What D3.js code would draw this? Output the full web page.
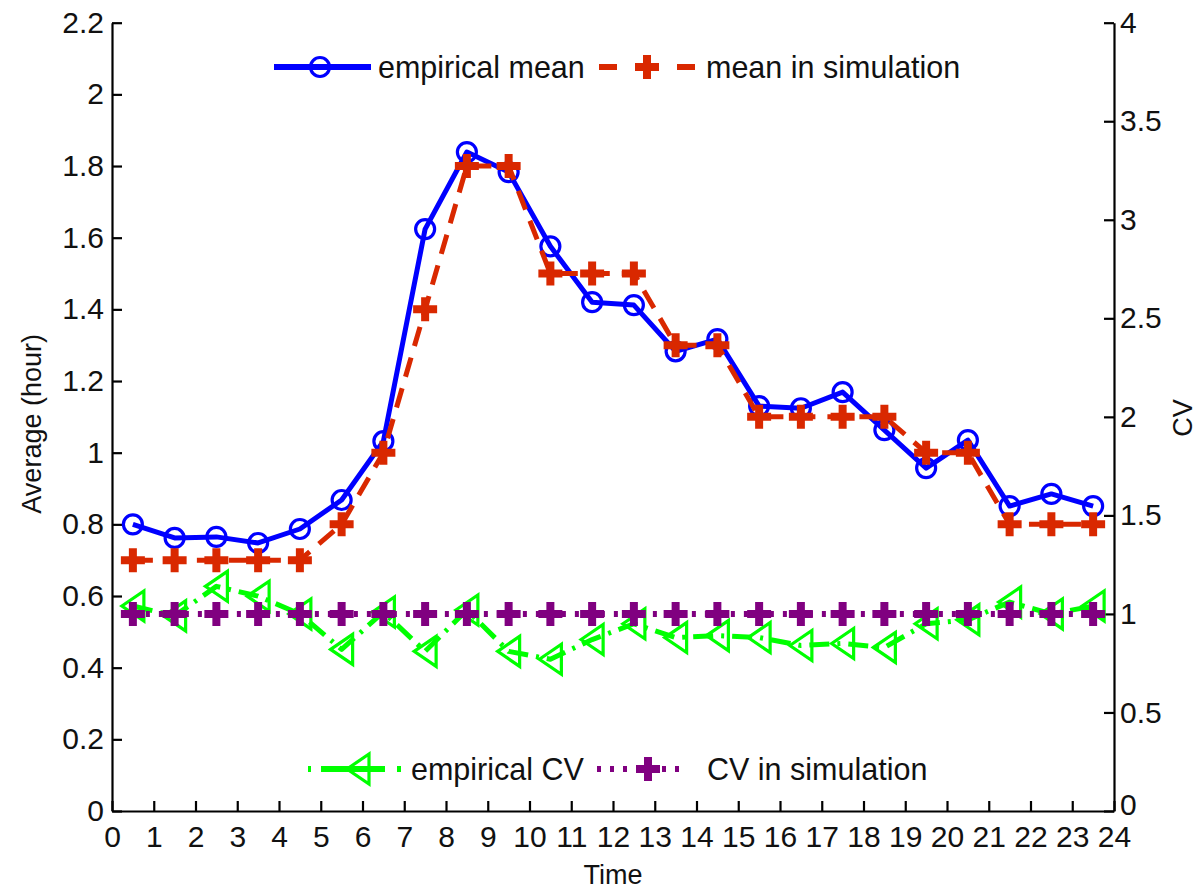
<!DOCTYPE html>
<html>
<head>
<meta charset="utf-8">
<script src="https://cdn.jsdelivr.net/npm/d3@7"></script>
<style>
  html, body { margin: 0; padding: 0; background: #fff; }
  svg { display: block; font-family: "Liberation Sans", Arial, sans-serif; }
</style>
</head>
<body>
<svg id="chart" width="1201" height="890"></svg>
<script>
// Hour of day (bin centres)
const hours = [0.5, 1.5, 2.5, 3.5, 4.5, 5.5, 6.5, 7.5, 8.5, 9.5, 10.5, 11.5,
               12.5, 13.5, 14.5, 15.5, 16.5, 17.5, 18.5, 19.5, 20.5, 21.5, 22.5, 23.5];

// Average duration (hour) – left axis
const empiricalMean = [0.80, 0.762, 0.765, 0.748, 0.787, 0.868, 1.032, 1.624, 1.839, 1.783, 1.576, 1.42,
                       1.412, 1.283, 1.317, 1.13, 1.124, 1.169, 1.063, 0.957, 1.035, 0.851, 0.885, 0.851];
const simMean = [0.7, 0.7, 0.7, 0.7, 0.7, 0.8, 1.0, 1.4, 1.8, 1.8, 1.5, 1.5,
                 1.5, 1.3, 1.3, 1.1, 1.1, 1.1, 1.1, 1.0, 1.0, 0.8, 0.8, 0.8];

// Coefficient of variation – right axis
const empiricalCV = [1.04, 0.99, 1.14, 1.09, 1.0, 0.82, 1.01, 0.81, 1.02, 0.81, 0.77, 0.87,
                     0.95, 0.88, 0.89, 0.88, 0.84, 0.85, 0.83, 0.95, 0.97, 1.06, 1.0, 1.04];
const simCV = [1, 1, 1, 1, 1, 1, 1, 1, 1, 1, 1, 1,
               1, 1, 1, 1, 1, 1, 1, 1, 1, 1, 1, 1];

// Tick values and labels
const xTicks = [0,1,2,3,4,5,6,7,8,9,10,11,12,13,14,15,16,17,18,19,20,21,22,23,24];
const leftTicks = [0, 0.2, 0.4, 0.6, 0.8, 1, 1.2, 1.4, 1.6, 1.8, 2, 2.2];
const leftTickLabels = ["0","0.2","0.4","0.6","0.8","1","1.2","1.4","1.6","1.8","2","2.2"];
const rightTicks = [0, 0.5, 1, 1.5, 2, 2.5, 3, 3.5, 4];
const rightTickLabels = ["0","0.5","1","1.5","2","2.5","3","3.5","4"];

const svg = d3.select("#chart");
const plotLeft = 112, plotRight = 1114, plotTop = 22.7, plotBottom = 811;

const x = d3.scaleLinear().domain([0, 24]).range([plotLeft, plotRight]);
const yL = d3.scaleLinear().domain([0, 2.2]).range([plotBottom, plotTop]);
const yR = d3.scaleLinear().domain([0, 4]).range([plotBottom, plotTop]);

const BLUE = "#0000ff", RED = "#d92800", GREEN = "#00ff00", PURPLE = "#800080";

// Axes (ticks pointing inward, no top frame)
const tickFont = 30;
const gx = svg.append("g").attr("transform", `translate(0,${plotBottom})`)
  .call(d3.axisBottom(x).tickValues(xTicks).tickFormat(d3.format("d"))
    .tickSize(-10).tickSizeOuter(0).tickPadding(15));
const gl = svg.append("g").attr("transform", `translate(${plotLeft},0)`)
  .call(d3.axisLeft(yL).tickValues(leftTicks).tickFormat((d, i) => leftTickLabels[i])
    .tickSize(-10).tickSizeOuter(0).tickPadding(8));
const gr = svg.append("g").attr("transform", `translate(${plotRight},0)`)
  .call(d3.axisRight(yR).tickValues(rightTicks).tickFormat((d, i) => rightTickLabels[i])
    .tickSize(-10).tickSizeOuter(0).tickPadding(6));

[gx, gl, gr].forEach(g => {
  g.select(".domain").attr("stroke", "#000").attr("stroke-width", 2.2);
  g.selectAll(".tick line").attr("stroke", "#000").attr("stroke-width", 2.2);
  g.selectAll(".tick text").attr("fill", "#111").attr("font-size", tickFont)
    .attr("font-family", "'Liberation Sans', Arial, sans-serif");
});
// The right-hand "0" sits just above the last hour label
gr.selectAll(".tick text").filter(d => d === 0).attr("dy", "0.1em");

// Axis titles
svg.append("text").attr("x", x(12)).attr("y", 884).attr("text-anchor", "middle")
  .attr("font-size", 27).attr("fill", "#111").text("Time");
svg.append("text").attr("transform", `translate(41,${(plotTop + plotBottom) / 2 + 7}) rotate(-90)`)
  .attr("text-anchor", "middle").attr("font-size", 27).attr("fill", "#111").text("Average (hour)");
svg.append("text").attr("transform", `translate(1192,418) rotate(-90)`)
  .attr("text-anchor", "middle").attr("font-size", 27).attr("fill", "#111").text("CV");

// Marker paths
const plusPath = d3.symbol().type(d3.symbolCross).size(320)();
const triLeft = "M-11,0L11,-15L11,15Z";

function drawSeries(cfg) {
  const g = svg.append("g");
  const line = d3.line().x((d, i) => x(hours[i])).y(d => cfg.y(d));
  g.append("path").datum(cfg.values).attr("d", line)
    .attr("fill", "none").attr("stroke", cfg.color).attr("stroke-width", cfg.width)
    .attr("stroke-dasharray", cfg.dash || null).attr("stroke-linejoin", "round");
  const m = g.selectAll("g.mk").data(cfg.values).join("g")
    .attr("transform", (d, i) => `translate(${x(hours[i])},${cfg.y(d)})`);
  cfg.marker(m);
}

function circleMarker(sel) {
  sel.append("circle").attr("r", 9.5).attr("fill", "none").attr("stroke", BLUE).attr("stroke-width", 3.2);
}
function plusMarker(color) {
  return sel => sel.append("path").attr("d", plusPath).attr("fill", color);
}
function triMarker(sel) {
  sel.append("path").attr("d", triLeft).attr("fill", "none").attr("stroke", GREEN).attr("stroke-width", 3.2)
    .attr("stroke-linejoin", "miter");
}

drawSeries({ values: empiricalMean, y: yL, color: BLUE, width: 5, marker: circleMarker });
drawSeries({ values: simMean, y: yL, color: RED, width: 5, dash: "20,12", marker: plusMarker(RED) });
drawSeries({ values: empiricalCV, y: yR, color: GREEN, width: 5, dash: "20,8,3,8", marker: triMarker });
drawSeries({ values: simCV, y: yR, color: PURPLE, width: 6, dash: "4,9", marker: plusMarker(PURPLE) });

// Legends
function legendItem(x0, x1, xm, yc, color, width, dash, marker, label, tx) {
  const g = svg.append("g");
  g.append("line").attr("x1", x0).attr("x2", x1).attr("y1", yc).attr("y2", yc)
    .attr("stroke", color).attr("stroke-width", width).attr("stroke-dasharray", dash || null);
  const m = g.append("g").attr("transform", `translate(${xm},${yc})`);
  marker(m);
  g.append("text").attr("x", tx).attr("y", yc + 11).attr("font-size", 30.5).attr("fill", "#111").text(label);
}

legendItem(274, 371, 320, 67, BLUE, 6, null, circleMarker, "empirical mean", 378);
legendItem(599, 695, 647, 67, RED, 6, "18,19,22,19,18", plusMarker(RED), "mean in simulation", 706);
legendItem(308, 402, 358, 769, GREEN, 6, "3,10,64,12,4", triMarker, "empirical CV", 411);
legendItem(597, 688, 648, 769, PURPLE, 6, "4,9", plusMarker(PURPLE), "CV in simulation", 707);
</script>
</body>
</html>
